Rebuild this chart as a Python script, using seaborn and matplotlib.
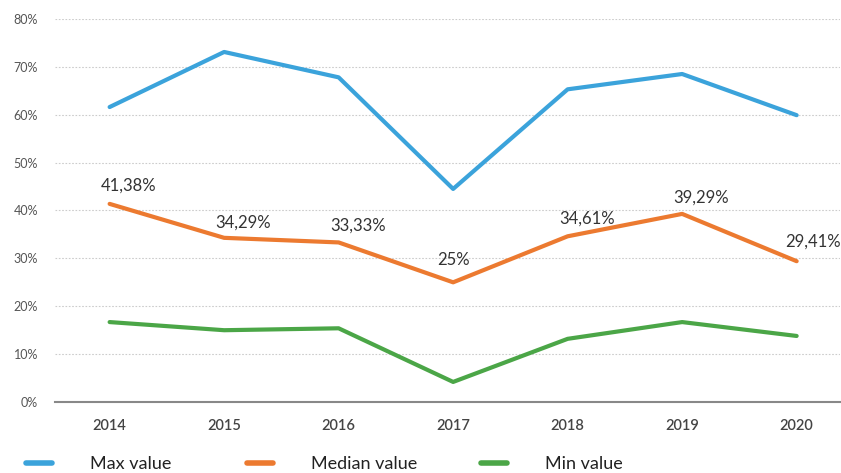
import matplotlib
matplotlib.use("Agg")
import matplotlib.pyplot as plt
import seaborn as sns
import pandas as pd
from matplotlib.lines import Line2D
from matplotlib.ticker import FuncFormatter

years = ["2014", "2015", "2016", "2017", "2018", "2019", "2020"]
max_vals = [61.6, 73.1, 67.8, 44.5, 65.3, 68.5, 59.9]
median_vals = [41.38, 34.29, 33.33, 25.0, 34.61, 39.29, 29.41]
min_vals = [16.7, 15.0, 15.4, 4.2, 13.2, 16.7, 13.8]
median_labels = ["41,38%", "34,29%", "33,33%", "25%", "34,61%", "39,29%", "29,41%"]
series_names = ["Max value", "Median value", "Min value"]
colors = ["#3BA3DB", "#EC7A30", "#4BA647"]

sns.set_theme(style="white")
plt.rcParams['font.family'] = ['Lato', 'DejaVu Sans']

rows = []
for name, vals in zip(series_names, [max_vals, median_vals, min_vals]):
    for i, (y, v) in enumerate(zip(years, vals)):
        rows.append({"x": i, "year": y, "value": v, "series": name})
df = pd.DataFrame(rows)

fig = plt.figure(figsize=(8.41, 4.73), dpi=100)
ax = fig.add_axes([0.065, 0.15, 0.934, 0.81])

sns.lineplot(data=df, x="x", y="value", hue="series", palette=colors,
             hue_order=series_names, linewidth=3, ax=ax, legend=False)

ax.set_xlim(-0.48, 6.38)
ax.set_ylim(0, 80)
ax.set_yticks(range(0, 81, 10))
ax.yaxis.set_major_formatter(FuncFormatter(lambda v, p: f"{int(v)}%"))
ax.set_xticks(range(len(years)))
ax.set_xticklabels(years)
ax.set_xlabel("")
ax.set_ylabel("")
ax.grid(axis="y", color="#cccccc", linestyle=(0, (1.5, 1.5)), linewidth=0.8)
ax.grid(axis="x", visible=False)
for s in ["left", "right", "top"]:
    ax.spines[s].set_visible(False)
ax.spines["bottom"].set_color("#888888")
ax.spines["bottom"].set_linewidth(1.5)
ax.tick_params(axis="y", labelsize=9, colors="#555555", length=0, pad=12)
ax.tick_params(axis="x", labelsize=10.5, colors="#444444", length=0, pad=12)
for t in ax.get_xticklabels():
    t.set_fontweight("semibold")
ax.set_axisbelow(True)

dx = [14, 14, 14, 0, 14, 14, 12]
dy = [13, 11, 12, 16, 13, 12, 14]
for i, (v, lab) in enumerate(zip(median_vals, median_labels)):
    ax.annotate(lab, (i, v), xytext=(dx[i], dy[i]), textcoords="offset points",
                ha="center", va="center", fontsize=12, color="#333333")

legend_x = [0.011, 0.2747, 0.5529]
for c, name, lx in zip(colors, series_names, legend_x):
    h = Line2D([], [], color=c, linewidth=4, solid_capstyle="round")
    fig.legend([h], [name], loc="lower left", bbox_to_anchor=(lx, -0.033),
               frameon=False, fontsize=13, handlelength=1.45, handletextpad=2.1,
               labelcolor="#222222")

fig.savefig("out.png", dpi=100)
